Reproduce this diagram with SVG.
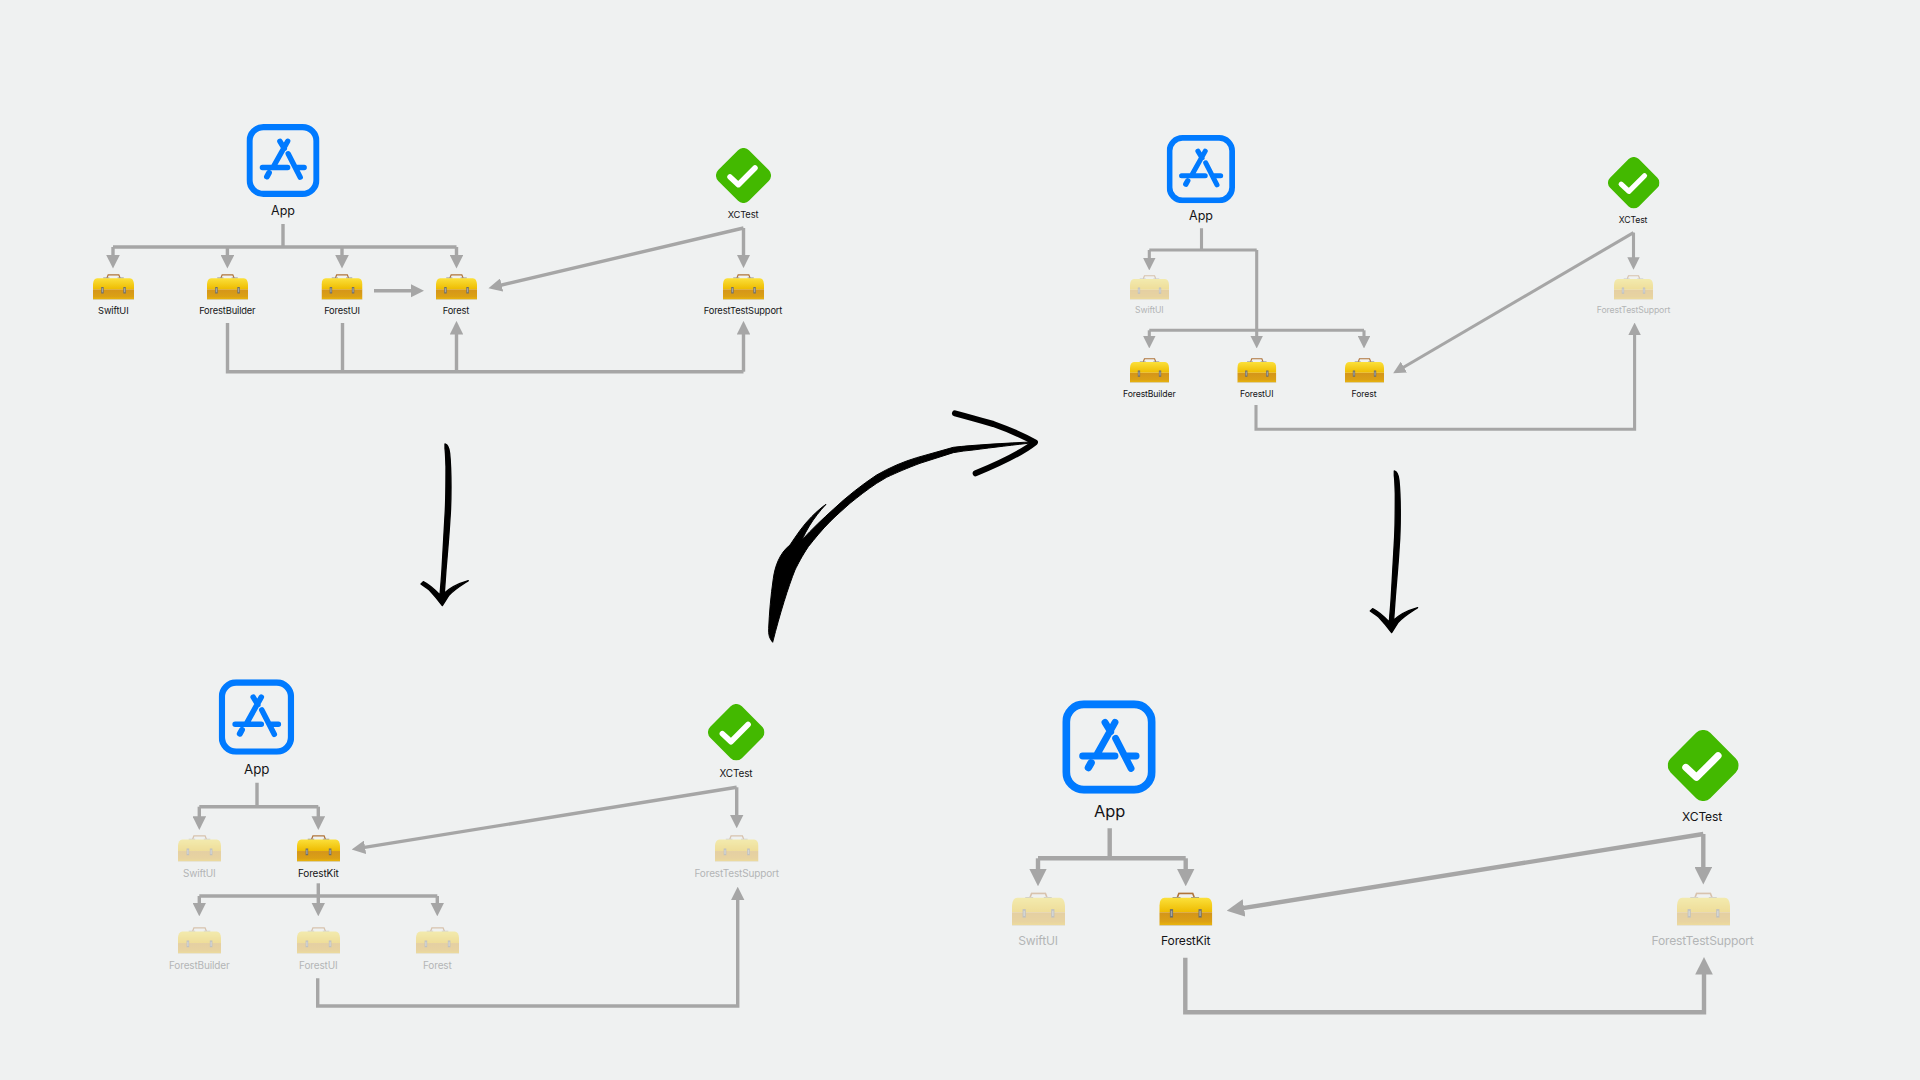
<svg xmlns="http://www.w3.org/2000/svg" width="1920" height="1080" viewBox="0 0 1920 1080">
<style>
text{font-family:Inter,"Liberation Sans",Arial,sans-serif;text-anchor:middle;fill:#141416}
.d{fill:#b3b5b6}
.dim{opacity:.36}
.s10,.s9,.s103,.s124{letter-spacing:-.015em}
.s10{font-size:9.3px}.s9{font-size:8.7px}.s103{font-size:10px}.s124{font-size:12.1px}
.a12{font-size:12.5px}.a13{font-size:13.3px}.a16{font-size:16.4px}
.c{fill:none;stroke:#a6a6a6;stroke-width:3.4;stroke-linejoin:miter}
.c28{stroke-width:3.1}.c4{stroke-width:4.4}
.ink{fill:#000;stroke:#000;stroke-width:4;stroke-linejoin:round}
</style>
<defs>
<marker id="ah" markerUnits="strokeWidth" markerWidth="4" markerHeight="4" viewBox="0 -2 4 4" refX="2.5" refY="0" orient="auto"><path d="M0,-2L4,0L0,2z" fill="#a6a6a6"/></marker>
<linearGradient id="lid" x1="0" y1="0" x2="0" y2="1"><stop offset="0" stop-color="#fbe03a"/><stop offset="1" stop-color="#eebb00"/></linearGradient>
<linearGradient id="base" x1="0" y1="0" x2="0" y2="1"><stop offset="0" stop-color="#d4951a"/><stop offset=".7" stop-color="#dba015"/><stop offset="1" stop-color="#eab60c"/></linearGradient>
<symbol id="box" viewBox="0 0 100 64" preserveAspectRatio="none">
<path d="M34,10L37,2H63L66,10" fill="none" stroke="#b0743a" stroke-width="3"/>
<path d="M25,10H40M60,10H75" stroke="#8f8f8f" stroke-width="2.5" fill="none"/>
<path d="M0,38V25Q1,11 10,10.500H90Q99,11 100,25V38z" fill="url(#lid)"/>
<rect x="0" y="38" width="100" height="24.500" fill="url(#base)"/>
<rect x="0" y="62.500" width="100" height="1.500" fill="#d0c8b0"/>
<rect x="20" y="32" width="6" height="16" fill="#6f6f6a"/><rect x="21.500" y="35" width="3" height="10" fill="#a5a5a0"/>
<rect x="74" y="32" width="6" height="16" fill="#6f6f6a"/><rect x="75.500" y="35" width="3" height="10" fill="#a5a5a0"/>
</symbol>
<symbol id="app" viewBox="0 0 100 100">
<rect x="4.200" y="4.200" width="91.600" height="91.600" rx="19" fill="none" stroke="#007aff" stroke-width="8.400"/>
<path d="M56.400,23.600L36.800,58.600M45.700,23.600L51.800,33.600M57.100,40.700L73.600,72.900M21.800,59.600H56.400M67,59.600H79" fill="none" stroke="#007aff" stroke-width="7.400" stroke-linecap="round"/>
<path d="M28,72L30.800,67" fill="none" stroke="#007aff" stroke-width="8" stroke-linecap="round"/>
</symbol>
<symbol id="chk" viewBox="0 0 100 100">
<rect x="10.500" y="10.500" width="79" height="79" rx="14" fill="#43b900" transform="rotate(45 50 50)"/>
<path d="M25.500,52.700L40.600,66.700L70.900,36.400" fill="none" stroke="#fff" stroke-width="10" stroke-linecap="round" stroke-linejoin="round"/>
</symbol>
<path id="down" class="ink" d="M135,42C142,44 147,50 149,70C152,100 153,130 153,170C153,200 152,240 150,265C147,320 142,370 138,420L133,490C145,478 170,462 205,452C185,465 160,480 146,497L127,527C118,515 105,498 88,480C80,472 70,468 63,462L70,455C85,462 105,480 120,495C122,470 125,440 127,400C130,340 133,290 136,240C138,200 138,150 138,110C137,85 137,70 135,55z"/>
</defs>
<rect width="1920" height="1080" fill="#eff1f1"/>

<g id="connectors">
<path class="c" d="M283,224V247M113,247H456.500"/>
<path class="c" marker-end="url(#ah)" d="M113,247V263.500"/><path class="c" marker-end="url(#ah)" d="M227.400,247V263.500"/><path class="c" marker-end="url(#ah)" d="M342,247V263.500"/><path class="c" marker-end="url(#ah)" d="M456.500,247V263.500"/>
<path class="c" marker-end="url(#ah)" d="M374,290.700H419"/>
<path class="c" marker-end="url(#ah)" d="M743.500,228L493.400,287"/>
<path class="c" marker-end="url(#ah)" d="M743.500,228V263"/>
<path class="c" d="M227.500,323V371.700H743.500M342.500,323V371.700"/>
<path class="c" marker-end="url(#ah)" d="M456.500,371.700V326"/>
<path class="c" marker-end="url(#ah)" d="M743.500,371.700V326"/>
<path class="c c28" d="M1201.500,228.300V250M1149.300,250H1256.700"/>
<path class="c c28" marker-end="url(#ah)" d="M1149.300,250V265.800"/>
<path class="c c28" marker-end="url(#ah)" d="M1256.700,250V343.800"/>
<path class="c c28" d="M1149.300,330.300H1364"/>
<path class="c c28" marker-end="url(#ah)" d="M1149.300,330.300V343.800"/>
<path class="c c28" marker-end="url(#ah)" d="M1364,330.300V343.800"/>
<path class="c c28" marker-end="url(#ah)" d="M1633.500,232.600L1397.200,371"/>
<path class="c c28" marker-end="url(#ah)" d="M1633.500,232.600V265"/>
<path class="c c28" marker-end="url(#ah)" d="M1256,405V429.300H1634.600V327.200"/>
<path class="c" d="M257,782.700V806.700M199.300,806.700H318.300"/>
<path class="c" marker-end="url(#ah)" d="M199.300,806.700V824.800"/>
<path class="c" marker-end="url(#ah)" d="M318.300,806.700V824.800"/>
<path class="c" marker-end="url(#ah)" d="M318.300,883.300V911.200"/>
<path class="c" d="M199.300,896H437.300"/>
<path class="c" marker-end="url(#ah)" d="M199.300,896V911.200"/>
<path class="c" marker-end="url(#ah)" d="M437.300,896V911.200"/>
<path class="c" marker-end="url(#ah)" d="M736.700,787.300L356.700,848.600"/>
<path class="c" marker-end="url(#ah)" d="M736.700,787.300V823.200"/>
<path class="c" marker-end="url(#ah)" d="M317.700,978.300V1006H737.700V891.800"/>
<path class="c c4" d="M1109.700,828.300V858.300M1038,858.300H1185.700"/>
<path class="c c4" marker-end="url(#ah)" d="M1038,858.300V879.700"/>
<path class="c c4" marker-end="url(#ah)" d="M1185.700,858.300V879.700"/>
<path class="c c4" marker-end="url(#ah)" d="M1703.300,834L1233.200,909.700"/>
<path class="c c4" marker-end="url(#ah)" d="M1703.300,834V878"/>
<path class="c c4" marker-end="url(#ah)" d="M1185.300,957.700V1012.300H1704V963.600"/>
</g>

<g id="tl-app"><use href="#app" x="246.500" y="124" width="73" height="73"/><text class="a12" x="283" y="215">App</text></g>
<g id="tl-swiftui"><use href="#box" x="93" y="274" width="41" height="26"/><text class="s10" x="113.300" y="314">SwiftUI</text></g>
<g id="tl-forestbuilder"><use href="#box" x="207" y="274" width="41" height="26"/><text class="s10" x="227.300" y="314">ForestBuilder</text></g>
<g id="tl-forestui"><use href="#box" x="321.500" y="274" width="41" height="26"/><text class="s10" x="342" y="314">ForestUI</text></g>
<g id="tl-forest"><use href="#box" x="436" y="274" width="41" height="26"/><text class="s10" x="456" y="314">Forest</text></g>
<g id="tl-xctest"><use href="#chk" x="716" y="148" width="55" height="55"/><text class="s10" x="743" y="217.500">XCTest</text></g>
<g id="tl-support"><use href="#box" x="723" y="274" width="41" height="26"/><text class="s10" x="743" y="314">ForestTestSupport</text></g>

<g id="tr-app"><use href="#app" x="1166.700" y="135" width="68.300" height="68.300"/><text class="a12" x="1201" y="220">App</text></g>
<g id="tr-swiftui"><use class="dim" href="#box" x="1130" y="275" width="39" height="25"/><text class="s9 d" x="1149.300" y="313">SwiftUI</text></g>
<g id="tr-forestbuilder"><use href="#box" x="1130" y="358" width="39" height="25"/><text class="s9" x="1149.300" y="396.700">ForestBuilder</text></g>
<g id="tr-forestui"><use href="#box" x="1237.300" y="358" width="39" height="25"/><text class="s9" x="1256.700" y="396.700">ForestUI</text></g>
<g id="tr-forest"><use href="#box" x="1345" y="358" width="39" height="25"/><text class="s9" x="1364" y="396.700">Forest</text></g>
<g id="tr-xctest"><use href="#chk" x="1608" y="157" width="51.500" height="51.500"/><text class="s9" x="1633" y="223">XCTest</text></g>
<g id="tr-support"><use class="dim" href="#box" x="1614" y="275" width="39" height="25"/><text class="s9 d" x="1633.500" y="313">ForestTestSupport</text></g>

<g id="bl-app"><use href="#app" x="218.700" y="679.300" width="75.500" height="75.500"/><text class="a13" x="256.700" y="774">App</text></g>
<g id="bl-swiftui"><use class="dim" href="#box" x="178" y="835" width="43" height="27"/><text class="s103 d" x="199.300" y="876.700">SwiftUI</text></g>
<g id="bl-forestkit"><use href="#box" x="297" y="835" width="43" height="27"/><text class="s103" x="318.300" y="876.700">ForestKit</text></g>
<g id="bl-forestbuilder"><use class="dim" href="#box" x="178" y="927" width="43" height="27"/><text class="s103 d" x="199.300" y="969">ForestBuilder</text></g>
<g id="bl-forestui"><use class="dim" href="#box" x="297" y="927" width="43" height="27"/><text class="s103 d" x="318.300" y="969">ForestUI</text></g>
<g id="bl-forest"><use class="dim" href="#box" x="416" y="927" width="43" height="27"/><text class="s103 d" x="437.300" y="969">Forest</text></g>
<g id="bl-xctest"><use href="#chk" x="708" y="704" width="56.500" height="56.500"/><text class="s103" x="736" y="776.500">XCTest</text></g>
<g id="bl-support"><use class="dim" href="#box" x="715" y="835" width="43.500" height="27"/><text class="s103 d" x="736.700" y="876.700">ForestTestSupport</text></g>

<g id="br-app"><use href="#app" x="1062.300" y="700.300" width="93.400" height="93.400"/><text class="a16" x="1109.700" y="816.700">App</text></g>
<g id="br-swiftui"><use class="dim" href="#box" x="1012" y="892.300" width="53" height="33.700"/><text class="s124 d" x="1038" y="944.500">SwiftUI</text></g>
<g id="br-forestkit"><use href="#box" x="1159.300" y="892.300" width="53" height="33.700"/><text class="s124" x="1185.700" y="944.500">ForestKit</text></g>
<g id="br-xctest"><use href="#chk" x="1667.700" y="730" width="71" height="71"/><text class="s124" x="1702" y="820.500">XCTest</text></g>
<g id="br-support"><use class="dim" href="#box" x="1677" y="892.300" width="53" height="33.700"/><text class="s124 d" x="1702.500" y="944.500">ForestTestSupport</text></g>

<g id="sketch-arrows">
<use href="#down" transform="translate(400 430) scale(.3333)"/>
<use href="#down" transform="translate(1349.300 457) scale(.3333)"/>
<g transform="translate(740 390) scale(.3333)">
<path fill="#000" stroke="#000" stroke-width="3" stroke-linejoin="round" d="M98,757C88,745 85,735 86,715C88,670 92,620 100,565C105,530 118,490 150,465C170,435 190,405 215,380C230,365 245,352 258,343C240,362 222,385 208,408C200,422 192,435 186,450C215,418 250,385 280,358C320,320 365,285 410,255C450,232 490,215 530,203L640,172C700,165 790,160 890,155L890,157C820,165 760,172 700,180C680,182 660,184 640,188L540,220C500,235 470,248 440,262L410,280C380,300 355,320 330,340C310,358 290,375 270,395C245,420 225,445 205,470C185,500 175,520 165,540C145,590 120,670 98,757z"/>
<path fill="none" stroke="#000" stroke-width="18" stroke-linecap="round" stroke-linejoin="round" d="M645,70C690,82 725,92 760,102C805,118 845,135 885,157C850,185 780,220 707,250"/>
</g>
</g>
</svg>
